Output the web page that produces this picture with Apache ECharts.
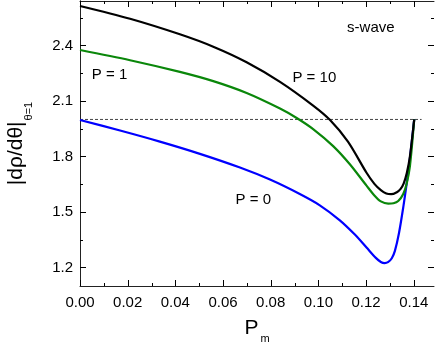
<!DOCTYPE html>
<html>
<head>
<meta charset="utf-8">
<script src="https://cdn.jsdelivr.net/npm/echarts@6/dist/echarts.min.js"></script>
<style>
  html, body { margin: 0; padding: 0; background: #fff; }
  #chart { width: 436px; height: 344px; }
</style>
</head>
<body>
<div id="chart"></div>
<script>
// P = 10 (black)
const x10 = [0, 0.021, 0.0419, 0.0559, 0.0699, 0.0839, 0.0978, 0.1048, 0.1124, 0.1202,
  0.1235, 0.1262, 0.1285, 0.1305, 0.1329, 0.1345, 0.1358, 0.1371, 0.1384, 0.1402]
const y10 = [2.613, 2.544, 2.460, 2.393, 2.309, 2.203, 2.075, 1.998, 1.880, 1.712,
  1.652, 1.618, 1.600, 1.596, 1.607, 1.625, 1.655, 1.71, 1.80, 2.0]

// P = 1 (green)
const x1 = [0, 0.021, 0.0419, 0.0559, 0.0699, 0.0839, 0.0909, 0.0978, 0.1062, 0.1132,
  0.1202, 0.1235, 0.1262, 0.1293, 0.1315, 0.1335, 0.1356, 0.1371, 0.1384, 0.1402]
const y1 = [2.375, 2.320, 2.257, 2.207, 2.143, 2.059, 2.008, 1.948, 1.856, 1.758,
  1.642, 1.589, 1.557, 1.545, 1.547, 1.559, 1.597, 1.657, 1.748, 2.0]

// P = 0 (blue)
const x0 = [0, 0.0168, 0.0335, 0.0503, 0.0671, 0.0797, 0.0922, 0.1006, 0.109, 0.1153,
  0.1202, 0.1241, 0.1262, 0.1278, 0.1292, 0.1308, 0.1321, 0.1338, 0.1356, 0.1371,
  0.1384, 0.1402]
const y0 = [1.997, 1.940, 1.880, 1.814, 1.740, 1.675, 1.597, 1.536, 1.455, 1.378,
  1.308, 1.252, 1.230, 1.224, 1.229, 1.250, 1.290, 1.385, 1.525, 1.66,
  1.79, 2.0]

// dashed reference line
const refX = [0, 0.1433]
const refY = [2.0, 2.0]

// ticks
const xMajor = [0, 0.02, 0.04, 0.06, 0.08, 0.10, 0.12, 0.14]
const xMinor = [0.01, 0.03, 0.05, 0.07, 0.09, 0.11, 0.13]
const yMajor = [1.2, 1.5, 1.8, 2.1, 2.4]
const yMinor = [1.35, 1.65, 1.95, 2.25, 2.55]

// text annotations [x, y, text]
const notes = [
  [0.122, 2.494, 's-wave'],
  [0.0983, 2.224, 'P = 10'],
  [0.0124, 2.240, 'P = 1'],
  [0.0727, 1.566, 'P = 0']
]

const font = '"Liberation Sans", Arial, sans-serif'
const lineColor = '#222'
const X_MIN = 0, X_MAX = 0.1485, Y_MIN = 1.1, Y_MAX = 2.64

const pairs = (xs, ys) => xs.map((x, i) => [x, ys[i]])

const chart = echarts.init(document.getElementById('chart'))

// inward ticks on both sides of the frame, placed through the axes' scales
function tickSeries(isX) {
  const major = isX ? xMajor : yMajor
  const minor = isX ? xMinor : yMinor
  const data = major.map(v => isX ? [v, Y_MIN, 6] : [X_MIN, v, 6])
    .concat(minor.map(v => isX ? [v, Y_MIN, 3] : [X_MIN, v, 3]))
  return {
    type: 'custom',
    silent: true,
    clip: false,
    z: 5,
    data: data,
    renderItem: (params, api) => {
      const cs = params.coordSys
      const p = api.coord([api.value(0), api.value(1)])
      const len = api.value(2)
      const style = { stroke: '#000', lineWidth: 1 }
      if (isX) {
        const x = Math.round(p[0]) + 0.5
        const yb = cs.y + cs.height, yt = cs.y
        return {
          type: 'group',
          children: [
            { type: 'line', shape: { x1: x, y1: yb, x2: x, y2: yb - len }, style },
            { type: 'line', shape: { x1: x, y1: yt, x2: x, y2: yt + len }, style }
          ]
        }
      }
      const y = Math.round(p[1]) + 0.5
      const xl = cs.x, xr = cs.x + cs.width
      return {
        type: 'group',
        children: [
          { type: 'line', shape: { x1: xl, y1: y, x2: xl + len, y2: y }, style },
          { type: 'line', shape: { x1: xr, y1: y, x2: xr - len, y2: y }, style }
        ]
      }
    }
  }
}

chart.setOption({
  animation: false,
  grid: { left: 80, right: 2, top: 1, bottom: 58, outerBoundsMode: 'none' },
  xAxis: [
    {
      type: 'value', min: X_MIN, max: X_MAX, interval: 0.02, position: 'bottom',
      splitLine: { show: false },
      axisLine: { show: true, lineStyle: { color: lineColor, width: 1 } },
      axisTick: { show: false },
      axisLabel: {
        show: true, margin: 9, fontSize: 15, color: '#000', fontFamily: font,
        formatter: v => v.toFixed(2)
      },
      name: '{a|P}{b|m}',
      nameLocation: 'middle',
      nameGap: 30,
      nameTextStyle: {
        rich: {
          a: { fontSize: 21, color: '#000', fontFamily: font, lineHeight: 24 },
          b: { fontSize: 11, color: '#000', fontFamily: font, verticalAlign: 'bottom', padding: [0, 0, -4, 2] }
        }
      }
    },
    {
      type: 'value', min: X_MIN, max: X_MAX, interval: 0.02, position: 'top',
      splitLine: { show: false },
      axisLine: { show: true, lineStyle: { color: lineColor, width: 1 } },
      axisTick: { show: false },
      axisLabel: { show: false }
    }
  ],
  yAxis: [
    {
      type: 'value', min: Y_MIN, max: Y_MAX, position: 'left',
      splitLine: { show: false },
      axisLine: { show: true, lineStyle: { color: lineColor, width: 1 } },
      axisTick: { show: false },
      axisLabel: {
        show: true, margin: 7, fontSize: 15, color: '#000', fontFamily: font,
        customValues: yMajor, formatter: v => v.toFixed(1)
      },
      name: '{a||dρ/dθ|}{b|θ=1}',
      nameLocation: 'middle',
      nameRotate: 90,
      nameGap: 52,
      nameTextStyle: {
        rich: {
          a: { fontSize: 21, color: '#000', fontFamily: font, lineHeight: 24 },
          b: { fontSize: 11, color: '#000', fontFamily: font, verticalAlign: 'bottom', padding: [0, 0, -6, 1] }
        }
      }
    },
    {
      type: 'value', min: Y_MIN, max: Y_MAX, position: 'right',
      splitLine: { show: false },
      axisLine: { show: true, lineStyle: { color: lineColor, width: 1 } },
      axisTick: { show: false },
      axisLabel: { show: false }
    }
  ],
  series: [
    {
      name: 'ref', type: 'line', data: pairs(refX, refY), symbol: 'none', z: 1,
      lineStyle: { color: '#444', width: 1, type: [3, 2] }
    },
    {
      name: 'P = 0', type: 'line', data: pairs(x0, y0), symbol: 'none', smooth: 0.3,
      lineStyle: { color: '#0000ff', width: 2.2 }
    },
    {
      name: 'P = 1', type: 'line', data: pairs(x1, y1), symbol: 'none', smooth: 0.3,
      lineStyle: { color: '#0a870a', width: 2.2 }
    },
    {
      name: 'P = 10', type: 'line', data: pairs(x10, y10), symbol: 'none', smooth: 0.3,
      lineStyle: { color: '#000000', width: 2.2 }
    },
    tickSeries(true),
    tickSeries(false)
  ]
})

// place annotations in data coordinates
chart.setOption({
  graphic: notes.map(n => {
    const pt = chart.convertToPixel({ xAxisIndex: 0, yAxisIndex: 0 }, [n[0], n[1]])
    return {
      type: 'text',
      x: pt[0], y: pt[1],
      style: {
        text: n[2], fill: '#000', font: '15px ' + font,
        textAlign: 'center', textVerticalAlign: 'middle'
      }
    }
  })
})
</script>
</body>
</html>
